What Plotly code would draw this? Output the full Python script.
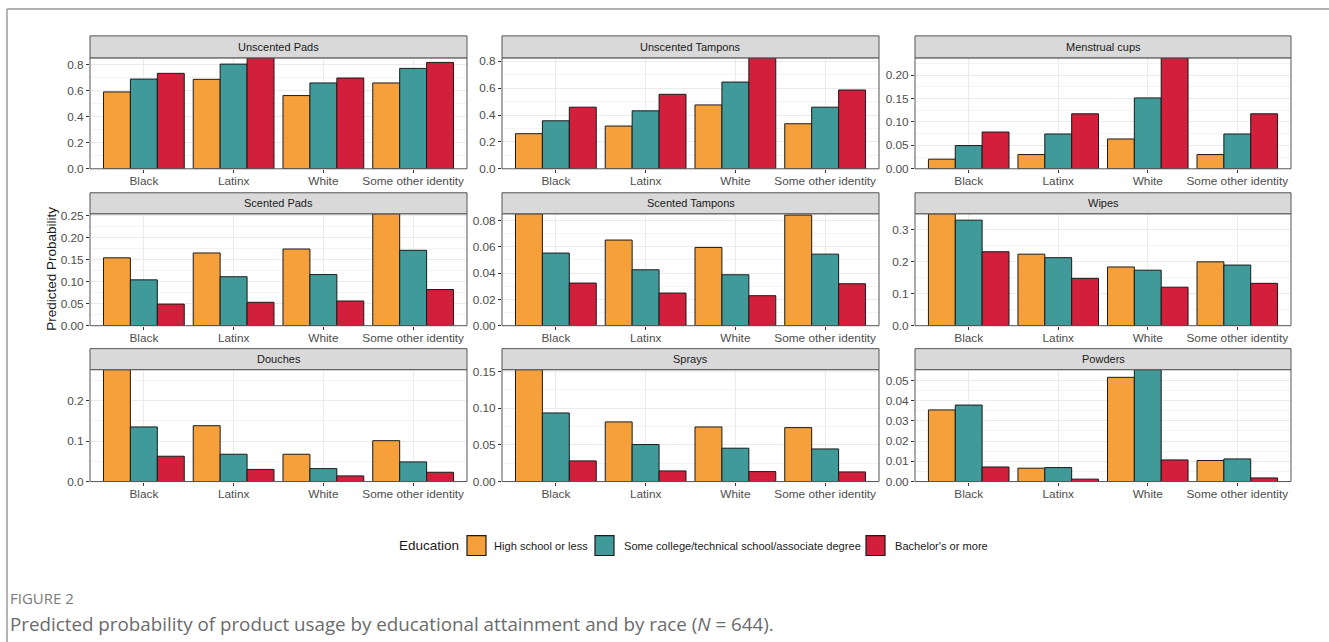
import plotly.graph_objects as go

W, H = 1329, 642

races = ["Black", "Latinx", "White", "Some other identity"]
education = ["High school or less",
             "Some college/technical school/associate degree",
             "Bachelor's or more"]
colors = ["#F5A03A", "#409A9A", "#D21F3B"]

products = ["Unscented Pads", "Unscented Tampons", "Menstrual cups",
            "Scented Pads", "Scented Tampons", "Wipes",
            "Douches", "Sprays", "Powders"]

# predicted probabilities: per product, one list per education level (over races)
unscented_pads = [[0.591, 0.688, 0.563, 0.660],
                  [0.690, 0.805, 0.660, 0.772],
                  [0.734, 0.853, 0.698, 0.818]]
unscented_tampons = [[0.261, 0.318, 0.475, 0.335],
                     [0.357, 0.431, 0.645, 0.458],
                     [0.458, 0.554, 0.825, 0.586]]
menstrual_cups = [[0.0205, 0.0304, 0.0636, 0.0304],
                  [0.0495, 0.0742, 0.1512, 0.0742],
                  [0.0784, 0.1173, 0.2367, 0.1173]]
scented_pads = [[0.154, 0.165, 0.174, 0.254],
                [0.104, 0.111, 0.116, 0.171],
                [0.049, 0.053, 0.056, 0.082]]
scented_tampons = [[0.0851, 0.0651, 0.0595, 0.0841],
                   [0.0552, 0.0425, 0.0387, 0.0544],
                   [0.0324, 0.0248, 0.0228, 0.0319]]
wipes = [[0.349, 0.223, 0.183, 0.199],
         [0.329, 0.212, 0.173, 0.189],
         [0.2305, 0.1475, 0.120, 0.132]]
douches = [[0.2765, 0.138, 0.0675, 0.101],
           [0.135, 0.0675, 0.032, 0.0486],
           [0.0626, 0.030, 0.014, 0.023]]
sprays = [[0.1527, 0.0814, 0.0745, 0.0736],
          [0.0936, 0.0505, 0.0455, 0.0445],
          [0.0282, 0.0145, 0.0136, 0.0132]]
powders = [[0.0354, 0.0066, 0.0515, 0.0104],
           [0.0378, 0.0069, 0.0553, 0.0112],
           [0.0072, 0.0012, 0.0107, 0.0018]]

panel_values = [unscented_pads, unscented_tampons, menstrual_cups,
                scented_pads, scented_tampons, wipes,
                douches, sprays, powders]
y_dtick = [0.2, 0.2, 0.05, 0.05, 0.02, 0.1, 0.1, 0.05, 0.01]
y_format = [".1f", ".1f", ".2f", ".2f", ".2f", ".1f", ".1f", ".2f", ".2f"]

# panel geometry in pixels (page coordinates)
col_x = [(90, 467), (502, 879), (915, 1291)]
row_plot = [(57, 168), (213, 325), (369, 481)]
row_strip = [(35, 57), (192, 213), (348, 369)]

# vertical placement on the page
Y_OFF, Y_SCALE = 4.1, 0.982


def px(x):
    return x / W


def py(y):
    return 1 - (y - Y_OFF) / Y_SCALE / H


fig = go.Figure()
layout = dict(width=W, height=H, margin=dict(l=0, r=0, t=0, b=0),
              paper_bgcolor="white", plot_bgcolor="white",
              barmode="group", bargap=0.1, bargroupgap=0,
              showlegend=False, font=dict(family="Liberation Sans, Arial", color="#4D4D4D"))
shapes = []
annotations = []

for i, (name, vals) in enumerate(zip(products, panel_values)):
    r, c = divmod(i, 3)
    n = i + 1
    xa = "x" if n == 1 else f"x{n}"
    ya = "y" if n == 1 else f"y{n}"
    for e, edu in enumerate(education):
        fig.add_trace(go.Bar(
            x=races, y=vals[e], name=edu, xaxis=xa, yaxis=ya,
            marker=dict(color=colors[e], line=dict(color="#1A1A1A", width=1)),
            showlegend=False))
    ymax = max(max(v) for v in vals)
    x0, x1 = col_x[c]
    yt, yb = row_plot[r]
    layout["xaxis" if n == 1 else f"xaxis{n}"] = dict(
        domain=[px(x0), px(x1)], anchor=ya, type="category",
        categoryorder="array", categoryarray=races,
        range=[-0.6, 3.6], showgrid=True, gridcolor="#EBEBEB", gridwidth=1,
        ticks="outside", ticklen=3, tickcolor="#333333", tickwidth=1,
        ticklabelstandoff=-2,
        tickfont=dict(size=11.8, color="#4D4D4D"), showline=False, zeroline=False,
        fixedrange=True)
    layout["yaxis" if n == 1 else f"yaxis{n}"] = dict(
        domain=[py(yb), py(yt)], anchor=xa, range=[0, ymax],
        dtick=y_dtick[i], tick0=0, tickformat=y_format[i],
        showgrid=True, gridcolor="#EBEBEB", gridwidth=1,
        minor=dict(dtick=y_dtick[i] / 2, tick0=0, showgrid=True,
                   gridcolor="#F3F3F3", gridwidth=0.6),
        ticks="outside", ticklen=3, tickcolor="#333333", tickwidth=1,
        tickfont=dict(size=11.8, color="#4D4D4D"), showline=False, zeroline=False,
        fixedrange=True)
    # panel border
    shapes.append(dict(type="rect", xref="paper", yref="paper",
                       x0=px(x0), x1=px(x1), y0=py(yb), y1=py(yt),
                       line=dict(color="#555555", width=1), fillcolor="rgba(0,0,0,0)",
                       layer="above"))
    # facet strip
    st, sb = row_strip[r]
    shapes.append(dict(type="rect", xref="paper", yref="paper",
                       x0=px(x0), x1=px(x1), y0=py(sb), y1=py(st),
                       line=dict(color="#555555", width=1), fillcolor="#D9D9D9",
                       layer="above"))
    annotations.append(dict(text=name, xref="paper", yref="paper",
                            x=px((x0 + x1) / 2), y=py((st + sb) / 2),
                            showarrow=False, xanchor="center", yanchor="middle",
                            font=dict(size=11, color="#1A1A1A")))

# y axis title
annotations.append(dict(text="Predicted Probability", xref="paper", yref="paper",
                        x=px(52), y=py(268), textangle=-90, showarrow=False,
                        xanchor="center", yanchor="middle",
                        font=dict(size=13.5, color="#1A1A1A")))

# legend
leg_y = 545
annotations.append(dict(text="Education", xref="paper", yref="paper",
                        x=px(397), y=py(leg_y), showarrow=False,
                        xanchor="left", yanchor="middle",
                        font=dict(size=13.5, color="#1A1A1A")))
key_x = [467, 595, 866]
text_x = [492, 622, 893]
for e, edu in enumerate(education):
    kx = key_x[e]
    shapes.append(dict(type="rect", xref="paper", yref="paper",
                       x0=px(kx), x1=px(kx + 19), y0=py(leg_y + 10), y1=py(leg_y - 10),
                       fillcolor=colors[e], line=dict(color="#1A1A1A", width=1.2)))
    annotations.append(dict(text=edu, xref="paper", yref="paper",
                            x=px(text_x[e]), y=py(leg_y), showarrow=False,
                            xanchor="left", yanchor="middle",
                            font=dict(size=11.1, color="#1A1A1A")))

# frame lines
shapes.append(dict(type="line", xref="paper", yref="paper",
                   x0=px(7), x1=px(W), y0=py(8), y1=py(8),
                   line=dict(color="#9A9A9A", width=1.5)))
shapes.append(dict(type="line", xref="paper", yref="paper",
                   x0=px(7), x1=px(7), y0=py(8), y1=py(H + 10),
                   line=dict(color="#9A9A9A", width=1.5)))

# caption
annotations.append(dict(text="FIGURE 2", xref="paper", yref="paper",
                        x=px(8), y=py(598), showarrow=False,
                        xanchor="left", yanchor="middle",
                        font=dict(family="Open Sans", size=15, color="#7A7A7A")))
annotations.append(dict(
    text="Predicted probability of product usage by educational attainment and by race (<i>N</i> = 644).",
    xref="paper", yref="paper", x=px(8), y=py(624), showarrow=False,
    xanchor="left", yanchor="middle",
    font=dict(family="Open Sans", size=18.8, color="#6B6B6B")))

layout["shapes"] = shapes
layout["annotations"] = annotations
fig.update_layout(**layout)
fig.write_html("out.html",
               post_script="document.body.style.margin='0';document.body.style.overflow='hidden';")
